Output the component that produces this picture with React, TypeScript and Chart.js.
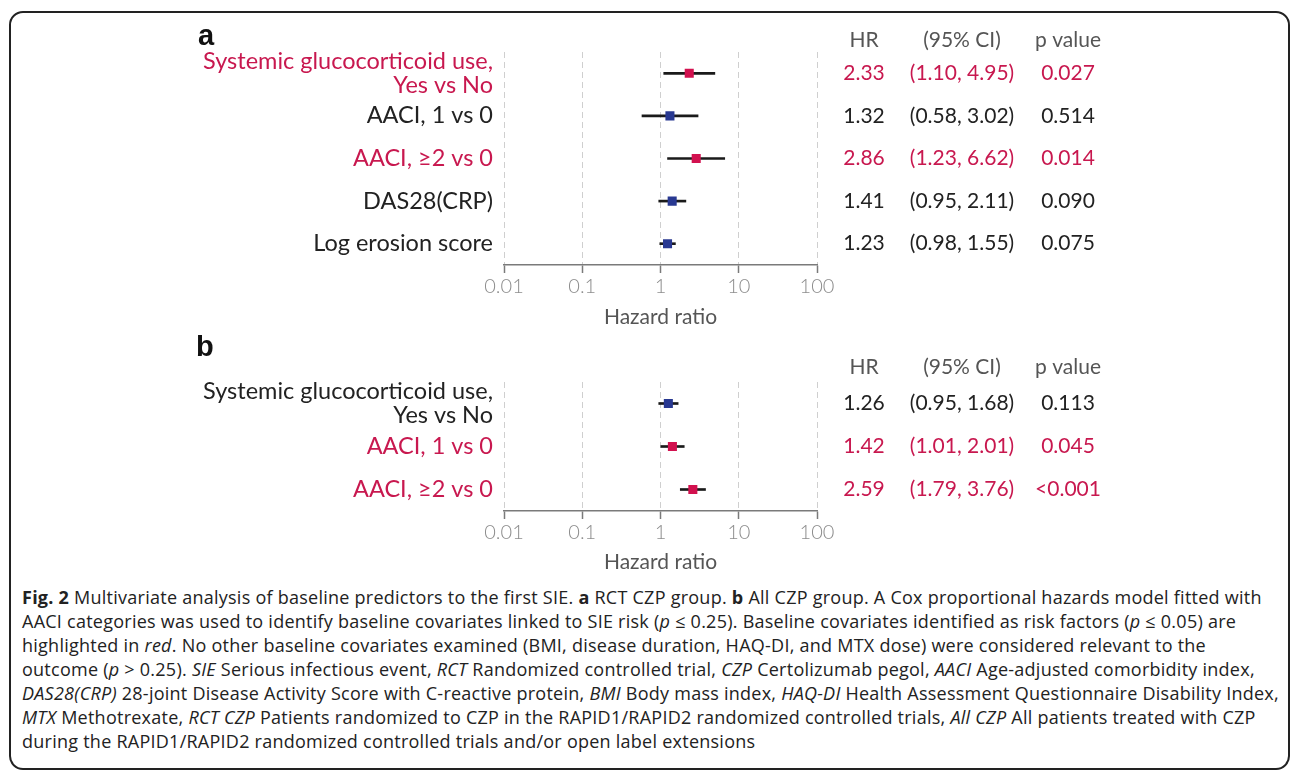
import React, { useEffect, useRef } from "react";
import { Chart, registerables } from "chart.js";

Chart.register(...registerables);

const FONT = "Lato, 'Open Sans', sans-serif";
const CAPTION_FONT = "'Open Sans', 'Noto Sans', sans-serif";
const RED_TEXT = "#C8184F";
const RED_MARK = "#D2114F";
const BLUE_MARK = "#283891";
const DARK = "#222222";

// ---- Panel a: RCT CZP group ----
const labelsA = [
  ["Systemic glucocorticoid use,", "Yes vs No"],
  "AACI, 1 vs 0",
  "AACI, \u22652 vs 0",
  "DAS28(CRP)",
  "Log erosion score",
];
const hrA = [2.33, 1.32, 2.86, 1.41, 1.23];
const ciLowA = [1.1, 0.58, 1.23, 0.95, 0.98];
const ciHighA = [4.95, 3.02, 6.62, 2.11, 1.55];
const pA = ["0.027", "0.514", "0.014", "0.090", "0.075"];
const sigA = [true, false, true, false, false];

// ---- Panel b: All CZP group ----
const labelsB = [
  ["Systemic glucocorticoid use,", "Yes vs No"],
  "AACI, 1 vs 0",
  "AACI, \u22652 vs 0",
];
const hrB = [1.26, 1.42, 2.59];
const ciLowB = [0.95, 1.01, 1.79];
const ciHighB = [1.68, 2.01, 3.76];
const pB = ["0.113", "0.045", "<0.001"];
const sigB = [false, true, true];

// ---- Axis ----
const tickValues = [0.01, 0.1, 1, 10, 100];
const tickLabels = ["0.01", "0.1", "1", "10", "100"];
const axisTitle = "Hazard ratio";
const tableHeaders = ["HR", "(95% CI)", "p value"];

type PanelProps = {
  letter: string;
  labels: (string | string[])[];
  hr: number[];
  lo: number[];
  hi: number[];
  p: string[];
  sig: boolean[];
  top: number;
  height: number;
  padTop: number;
  xAxisHeight: number;
  headerY: number;
  letterX: number;
  letterY: number;
};

const COLS = [864, 962, 1068];

function ForestPanel(props: PanelProps) {
  const ref = useRef<HTMLCanvasElement | null>(null);
  useEffect(() => {
    const canvas = ref.current;
    if (!canvas) return;
    const { labels, hr, lo, hi, p, sig } = props;

    const tablePlugin = {
      id: "forestTable" + props.letter,
      afterDraw(chart: any) {
        const ctx = chart.ctx as CanvasRenderingContext2D;
        const ys = chart.scales.y;
        ctx.save();
        ctx.textAlign = "center";
        ctx.textBaseline = "middle";
        ctx.font = `400 21px ${FONT}`;
        ctx.fillStyle = "#555555";
        tableHeaders.forEach((h, j) => ctx.fillText(h, COLS[j], props.headerY));
        hr.forEach((v, i) => {
          const py = ys.getPixelForValue(i);
          ctx.fillStyle = sig[i] ? RED_TEXT : DARK;
          const cells = [
            v.toFixed(2),
            `(${lo[i].toFixed(2)}, ${hi[i].toFixed(2)})`,
            p[i],
          ];
          cells.forEach((c, j) => ctx.fillText(c, COLS[j], py));
        });
        ctx.font = `bold 29px 'Liberation Sans', Arial, sans-serif`;
        ctx.fillStyle = "#111111";
        ctx.textAlign = "left";
        ctx.textBaseline = "alphabetic";
        ctx.fillText(props.letter, props.letterX, props.letterY);
        ctx.restore();
      },
    };

    const chart = new Chart(canvas, {
      type: "bar",
      data: {
        labels: labels as any,
        datasets: [
          {
            type: "bar",
            data: lo.map((l, i) => [l, hi[i]]) as any,
            backgroundColor: "#1a1a1a",
            barThickness: 2,
            borderWidth: 0,
            indexAxis: "y",
            order: 1,
          } as any,
          {
            type: "line",
            data: hr,
            showLine: false,
            pointStyle: "rect",
            pointRadius: 6.4,
            pointHoverRadius: 6.4,
            pointBorderWidth: 0,
            pointBackgroundColor: sig.map((s) => (s ? RED_MARK : BLUE_MARK)),
            indexAxis: "y",
            order: 0,
          } as any,
        ],
      },
      options: {
        indexAxis: "y",
        animation: false,
        responsive: false,
        maintainAspectRatio: false,
        events: [],
        layout: { padding: { top: props.padTop, right: 473, left: 0, bottom: 0 } },
        plugins: {
          legend: { display: false },
          tooltip: { enabled: false },
        },
        scales: {
          x: {
            type: "logarithmic",
            min: 0.01,
            max: 100,
            position: "bottom",
            afterBuildTicks: (s: any) => {
              s.ticks = tickValues.map((v) => ({ value: v }));
            },
            afterFit: (s: any) => {
              s.height = props.xAxisHeight;
            },
            ticks: {
              callback: (_v: any, i: number) => tickLabels[i] ?? "",
              color: "#8d8d8d",
              font: { family: FONT, size: 20, weight: "300" },
              padding: 2,
              maxRotation: 0,
              autoSkip: false,
            },
            grid: {
              color: "#cfcfcf",
              lineWidth: 1,
              drawTicks: true,
              tickLength: 8,
              tickColor: "#7a7a7a",
              tickWidth: 1.5,
              tickBorderDash: [],
            },
            border: { display: true, color: "#7a7a7a", width: 1.5, dash: [6, 4] },
            title: {
              display: true,
              text: axisTitle,
              color: "#555555",
              font: { family: FONT, size: 21 },
              padding: { top: 0, bottom: 5 },
            },
          } as any,
          y: {
            type: "category",
            position: "left",
            offset: true,
            afterFit: (s: any) => {
              s.width = 504;
            },
            grid: { display: false, drawTicks: false },
            border: { display: false },
            ticks: {
              color: (c: any) => (sig[c.index] ? RED_TEXT : DARK),
              font: { family: FONT, size: 23.5, lineHeight: 1.03 },
              padding: 11,
              autoSkip: false,
            },
          } as any,
        },
      },
      plugins: [tablePlugin],
    });
    return () => chart.destroy();
  }, []);

  return (
    <canvas
      ref={ref}
      width={1290}
      height={props.height}
      style={{ position: "absolute", left: 0, top: props.top, width: 1290, height: props.height }}
    />
  );
}

const it = (s: string) => <i>{s}</i>;

export default function App() {
  return (
    <div
      style={{
        position: "fixed",
        left: 0,
        top: 0,
        width: 1290,
        height: 776,
        background: "#ffffff",
        overflow: "hidden",
      }}
    >
      <div
        style={{
          position: "absolute",
          left: 9,
          top: 11,
          width: 1281,
          height: 759,
          border: "2px solid #222",
          borderRadius: 14,
          boxSizing: "border-box",
        }}
      />
      <ForestPanel
        letter="a"
        labels={labelsA}
        hr={hrA}
        lo={ciLowA}
        hi={ciHighA}
        p={pA}
        sig={sigA}
        top={0}
        height={335}
        padTop={52}
        xAxisHeight={70}
        headerY={40}
        letterX={198}
        letterY={45}
      />
      <ForestPanel
        letter="b"
        labels={labelsB}
        hr={hrB}
        lo={ciLowB}
        hi={ciHighB}
        p={pB}
        sig={sigB}
        top={335}
        height={245}
        padTop={47}
        xAxisHeight={69}
        headerY={32}
        letterX={196}
        letterY={21}
      />
      <div
        style={{
          position: "absolute",
          left: 22,
          top: 585,
          width: 1266,
          fontFamily: CAPTION_FONT,
          fontSize: 18,
          letterSpacing: "0.25px",
          lineHeight: "24px",
          color: "#222",
          whiteSpace: "nowrap",
        }}
      >
        <div>
          <b>Fig. 2</b> Multivariate analysis of baseline predictors to the first SIE. <b>a</b> RCT CZP group. <b>b</b> All CZP group. A Cox proportional hazards model fitted with
        </div>
        <div>
          AACI categories was used to identify baseline covariates linked to SIE risk ({it("p")} ≤ 0.25). Baseline covariates identified as risk factors ({it("p")} ≤ 0.05) are
        </div>
        <div>
          highlighted in {it("red")}. No other baseline covariates examined (BMI, disease duration, HAQ-DI, and MTX dose) were considered relevant to the
        </div>
        <div>
          outcome ({it("p")} &gt; 0.25). {it("SIE")} Serious infectious event, {it("RCT")} Randomized controlled trial, {it("CZP")} Certolizumab pegol, {it("AACI")} Age-adjusted comorbidity index,
        </div>
        <div>
          {it("DAS28(CRP)")} 28-joint Disease Activity Score with C-reactive protein, {it("BMI")} Body mass index, {it("HAQ-DI")} Health Assessment Questionnaire Disability Index,
        </div>
        <div>
          {it("MTX")} Methotrexate, {it("RCT CZP")} Patients randomized to CZP in the RAPID1/RAPID2 randomized controlled trials, {it("All CZP")} All patients treated with CZP
        </div>
        <div>during the RAPID1/RAPID2 randomized controlled trials and/or open label extensions</div>
      </div>
    </div>
  );
}
